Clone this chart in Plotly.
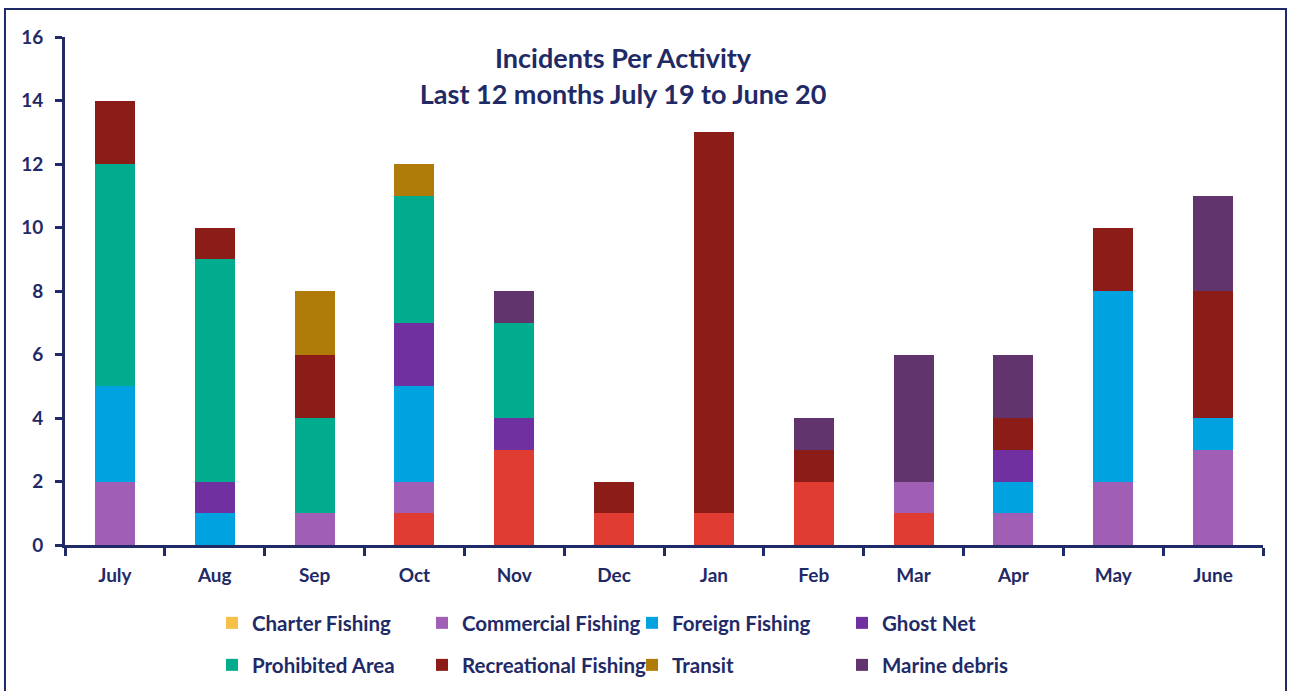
import plotly.graph_objects as go

months = ["July", "Aug", "Sep", "Oct", "Nov", "Dec", "Jan", "Feb", "Mar", "Apr", "May", "June"]

unlisted = [0, 0, 0, 1, 3, 1, 1, 2, 1, 0, 0, 0]
charter_fishing = [0, 0, 0, 0, 0, 0, 0, 0, 0, 0, 0, 0]
commercial_fishing = [2, 0, 1, 1, 0, 0, 0, 0, 1, 1, 2, 3]
foreign_fishing = [3, 1, 0, 3, 0, 0, 0, 0, 0, 1, 6, 1]
ghost_net = [0, 1, 0, 2, 1, 0, 0, 0, 0, 1, 0, 0]
prohibited_area = [7, 7, 3, 4, 3, 0, 0, 0, 0, 0, 0, 0]
recreational_fishing = [2, 1, 2, 0, 0, 1, 12, 1, 0, 1, 2, 4]
transit = [0, 0, 2, 1, 0, 0, 0, 0, 0, 0, 0, 0]
marine_debris = [0, 0, 0, 0, 1, 0, 0, 1, 4, 2, 0, 3]

y_ticks = [0, 2, 4, 6, 8, 10, 12, 14, 16]

NAVY = "#1F2A66"
FONT = "Lato"

# (name, values, colour, legend id or None)
series = [
    ("", unlisted, "#E03C31", None),
    ("Charter Fishing", charter_fishing, "#F5BF48", "legend"),
    ("Commercial Fishing", commercial_fishing, "#A05EB5", "legend"),
    ("Foreign Fishing", foreign_fishing, "#00A3E0", "legend"),
    ("Ghost Net", ghost_net, "#7030A0", "legend"),
    ("Prohibited Area", prohibited_area, "#00AB8E", "legend2"),
    ("Recreational Fishing", recreational_fishing, "#8B1C17", "legend2"),
    ("Transit", transit, "#AF7C0A", "legend2"),
    ("Marine debris", marine_debris, "#62346E", "legend2"),
]

fig = go.Figure()
for name, vals, color, leg in series:
    fig.add_trace(go.Bar(
        x=months, y=vals, name=name, marker_color=color,
        marker_line_width=0,
        showlegend=leg is not None,
        legend=leg if leg else "legend",
    ))

legend_common = dict(
    orientation="h",
    x=0.1227, xanchor="left",
    yanchor="middle",
    traceorder="normal",
    entrywidth=165, entrywidthmode="pixels",
    font=dict(size=20.5, color=NAVY, family=FONT, weight="bold"),
    bgcolor="rgba(0,0,0,0)",
)

fig.update_layout(
    barmode="stack",
    bargap=0.6,
    width=1290, height=691,
    margin=dict(l=65, r=27, t=37, b=146, autoexpand=False),
    paper_bgcolor="white",
    plot_bgcolor="white",
    font=dict(family=FONT, color=NAVY, size=18),
    title=dict(
        text="Incidents Per Activity<br>Last 12 months July 19 to June 20",
        xref="container", x=0.483, xanchor="center",
        yref="container", y=0.901, yanchor="middle",
        font=dict(size=27, color=NAVY, family=FONT, weight="bold"),
    ),
    legend=dict(y=-0.1536, **legend_common),
    legend2=dict(y=-0.2363, **legend_common),
    xaxis=dict(
        type="category",
        showline=True, linecolor=NAVY, linewidth=3,
        ticks="outside", tickson="boundaries", ticklen=8, tickwidth=3, tickcolor=NAVY,
        tickfont=dict(size=19, color=NAVY, family=FONT, weight="bold"),
        ticklabelstandoff=11,
        showgrid=False, automargin=False,
    ),
    yaxis=dict(
        range=[0, 16],
        tickvals=y_ticks,
        showline=True, linecolor=NAVY, linewidth=3,
        ticks="outside", ticklen=7, tickwidth=3, tickcolor=NAVY,
        tickfont=dict(size=19, color=NAVY, family=FONT, weight="bold"),
        ticklabelstandoff=8,
        showgrid=False, zeroline=False, automargin=False,
    ),
    shapes=[dict(
        type="rect", xref="paper", yref="paper",
        x0=-0.0501, x1=1.0192, y0=-0.35, y1=1.0551,
        line=dict(color=NAVY, width=2), fillcolor="rgba(0,0,0,0)", layer="below",
    )],
)

fig.write_html(
    "out.html",
    config={"displayModeBar": False},
    post_script="document.body.style.margin='0';document.body.style.overflow='hidden';",
)
